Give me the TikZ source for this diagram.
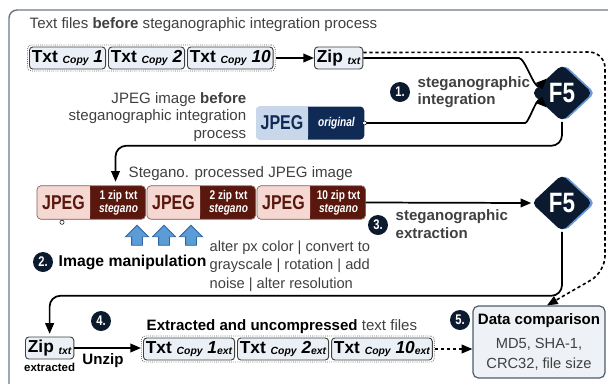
\documentclass[tikz,border=0pt]{standalone}
\usepackage{fontspec}
\setmainfont{Liberation Sans}
\newfontfamily\narrowfont{Liberation Sans}[FakeStretch=0.8]
\usepackage{xcolor}
\usepackage{tikz}
\usetikzlibrary{arrows.meta,calc,positioning,fit,shapes.geometric,shapes.arrows,shadows}
\definecolor{navy}{HTML}{0B1A2E}
\definecolor{f5blue}{HTML}{6A9BD8}
\definecolor{origdark}{HTML}{0F2B55}
\definecolor{origlight}{HTML}{C8D7EA}
\definecolor{stegdark}{HTML}{5A170D}
\definecolor{stegpink}{HTML}{F6D8D3}
\definecolor{boxfill}{HTML}{EAF0F6}
\definecolor{dcfill}{HTML}{EEF1F5}
\definecolor{dcline}{HTML}{4E5D6D}
\definecolor{txtgray}{HTML}{404040}
\definecolor{framegray}{HTML}{6E7885}
\definecolor{upfill}{HTML}{5B9BD6}
\definecolor{upline}{HTML}{2F64A3}
\newcommand\sm[1]{\raisebox{-1.2pt}{\fontsize{7.8}{8}\selectfont\bfseries\itshape #1}}
\tikzset{
  lbl/.style={font=\fontsize{11.3}{13}\selectfont, text=txtgray},
  steplbl/.style={font=\fontsize{11.3}{13}\selectfont\bfseries, text=txtgray, align=left},
  txtbox/.style={draw=black!75, fill=boxfill, rounded corners=2.5pt, line width=0.7pt,
    inner sep=1.8pt, minimum height=16.5pt, font=\fontsize{13}{14}\selectfont\bfseries},
  grp/.style={draw=black!60, densely dotted, rounded corners=3pt, line width=0.6pt, inner sep=1.2pt},
  arr/.style={-{Triangle[length=8pt,width=6.5pt]}, line width=1.3pt, rounded corners=8pt},
  dotarr/.style={arr, dash pattern=on 2.5pt off 2pt, line width=1.2pt},
  f5/.style={diamond, fill=navy, text=white, rounded corners=4pt, inner sep=0pt,
    minimum width=45.75pt, minimum height=42.75pt,
    font=\narrowfont\bfseries\fontsize{21}{21}\selectfont,
    drop shadow={shadow xshift=2pt, shadow yshift=0pt, fill=f5blue, opacity=1}},
  stepnum/.style={circle, fill=navy, text=white, inner sep=0pt, minimum size=15pt,
    font=\narrowfont\bfseries\fontsize{10.5}{10}\selectfont},
  jpegbox/.style={rounded corners=3pt, minimum width=81pt, minimum height=24.75pt, inner sep=0pt},
  jpegtxt/.style={font=\narrowfont\bfseries\fontsize{15}{15}\selectfont},
  tagtxt/.style={text=white, align=center, font=\narrowfont\bfseries\fontsize{9.5}{10}\selectfont},
  uparr/.style={single arrow, shape border rotate=90, fill=upfill, draw=upline, line width=0.6pt,
    minimum height=15pt, minimum width=16.5pt, single arrow head extend=4.5pt, inner sep=3.75pt},
}
\begin{document}
\begin{tikzpicture}[x=0.75pt, y=-0.75pt]
\useasboundingbox (0,0) rectangle (608,383);
\clip (0,0) rectangle (608,383);
\draw[framegray, line width=1.1pt, rounded corners=6pt] (640,10) -- (9,10) -- (9,420);

% integration
\node[lbl, anchor=west] (title) at (25,25) {Text files \textbf{before} steganographic integration process};
\node[txtbox, anchor=west] (t1) at (29,58) {Txt \sm{Copy} \textit{1}};
\node[txtbox, right=1.5pt of t1] (t2) {Txt \sm{Copy} \textit{2}};
\node[txtbox, right=1.5pt of t2] (t3) {Txt \sm{Copy} \textit{10}};
\node[grp, fit=(t1)(t3)] (g1) {};
\node[txtbox, anchor=west] (zip) at (314,58) {Zip \sm{txt}};
\draw[arr] (g1) -- (zip);

\node[f5] (f5a) at (562,93) {F5};
\node[f5] (f5b) at (562,203) {F5};

\node[jpegbox, fill=origdark, anchor=west] (orig) at (256,123) {};
\fill[origlight, rounded corners=3pt] (orig.north west) rectangle ($(orig.south west)+(52,0)$);
\fill[origlight] ($(orig.north west)+(44,0)$) rectangle ($(orig.south west)+(52,0)$);
\node[jpegtxt, text=origdark] (origl) at ($(orig.west)+(26,0)$) {JPEG};
\node[tagtxt] (origr) at ($(orig.east)+(-28,0)$) {\textit{original}};
\node[lbl, align=right, anchor=east] (origtxt) at (251,117) {JPEG image \textbf{before}\\steganographic integration\\process};

\draw[arr] (zip.east) -- ++(145,0) to[out=0,in=225] (f5a.north west);
\draw[arr] (orig.east) -- ++(150,0) to[out=0,in=135] (f5a.south west);
\draw[fill=white, line width=0.4pt] (orig.east) circle (1.5pt);
\node[stepnum] (n1) at (400,92) {1.};
\node[steplbl, anchor=west] (l1) at (413,92) {steganographic\\integration};

% stegano images
\node[lbl, anchor=west] (steglbl) at (124,174) {Stegano. processed JPEG image};
\foreach \i/\x/\k in {1/37/1,2/147/2,3/257/10}{
  \node[jpegbox, fill=stegdark, anchor=west] (s\i) at (\x,202.5) {};
  \fill[stegpink, rounded corners=3pt] (s\i.north west) rectangle ($(s\i.south west)+(53,0)$);
  \fill[stegpink] ($(s\i.north west)+(45,0)$) rectangle ($(s\i.south west)+(53,0)$);
  \draw[stegdark!70, line width=0.5pt, rounded corners=3pt] (s\i.north west) rectangle (s\i.south east);
  \node[jpegtxt, text=stegdark] (sl\i) at ($(s\i.west)+(26.5,0)$) {JPEG};
  \node[tagtxt] (sr\i) at ($(s\i.east)+(-27,0)$) {\k\ zip txt\\\textit{stegano}};
}
\draw[fill=white, line width=0.4pt] ($(s1.south west)+(25,3)$) circle (1.6pt);
\draw[arr, shorten >=3pt] (f5a.south) -- ++(0,24) -| ($(s1.north east)+(-30,0)$);
\draw[arr] (s3.east) -- (f5b.west);
\node[stepnum] (n3) at (378,225) {3.};
\node[steplbl, anchor=west] (l3) at (391,224) {steganographic\\extraction};

% manipulation
\foreach \i/\x in {1/137,2/164,3/191}
  \node[uparr] (up\i) at (\x,238) {};
\node[stepnum] (n2) at (43,262) {2.};
\node[anchor=west, font=\fontsize{11.8}{13}\selectfont\bfseries] (manip) at (54,262) {Image manipulation};
\node[lbl, align=left, anchor=west, font=\fontsize{11}{13.9}\selectfont] (alter) at (205,266) {alter px color | convert to\\grayscale | rotation | add\\noise | alter resolution};

% extraction
\node[txtbox, anchor=west] (zipx) at (25,348) {Zip \sm{txt}};
\draw[arr, shorten >=2pt] (f5b.south) -- ++(0,64) -| (zipx.north);
\node[below=-1pt of zipx, font=\fontsize{8.6}{9}\selectfont\bfseries] (extr) {extracted};
\node[stepnum] (n4) at (101,321) {4.};
\node[font=\fontsize{11.3}{12}\selectfont\bfseries] (unzip) at (103,361) {Unzip};
\node[lbl, anchor=west] (extlbl) at (142,327) {\textbf{\color{black}Extracted and uncompressed} text files};
\node[txtbox, anchor=west] (t4) at (143,349) {Txt \sm{Copy} \textit{1}\sm{ext}};
\node[txtbox, right=1.5pt of t4] (t5) {Txt \sm{Copy} \textit{2}\sm{ext}};
\node[txtbox, right=1.5pt of t5] (t6) {Txt \sm{Copy} \textit{10}\sm{ext}};
\node[grp, fit=(t4)(t6)] (g2) {};
\draw[arr] (zipx.east) -- (zipx.east -| g2.west);

% comparison
\node[draw=dcline, fill=dcfill, rounded corners=4pt, line width=0.9pt, minimum width=99pt,
  minimum height=54pt, align=center, lbl, font=\fontsize{11}{15}\selectfont] (dc) at (539,342)
  {{\bfseries\color{black}\fontsize{11.3}{13}\selectfont Data comparison}\\[3pt]MD5, SHA-1,\\CRC32, file size};
\node[stepnum] (n5) at (460,320) {5.};
\draw[dotarr] (g2.east) -- (g2.east -| dc.west);
\draw[dotarr, rounded corners=12pt] ($(zip.north east)+(0,6)$) -- (605,52) -- (605,272) -- ($(dc.north)+(8,0)$);
\end{tikzpicture}
\end{document}
